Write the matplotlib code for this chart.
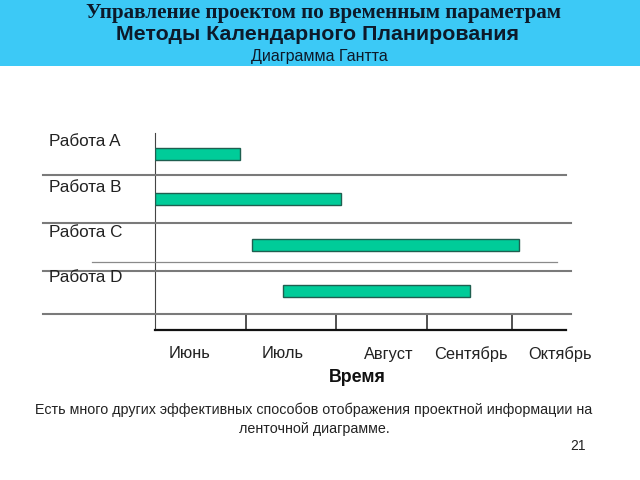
import matplotlib
matplotlib.use("Agg")
import matplotlib.pyplot as plt
from matplotlib.lines import Line2D
from matplotlib.patches import Rectangle

tasks = ["Работа A", "Работа B", "Работа C", "Работа D"]
starts = [0.0, 0.0, 1.07, 1.41]          # months from start of June
durations = [0.94, 2.06, 2.95, 2.07]     # months
months = ["Июнь", "Июль", "Август", "Сентябрь", "Октябрь"]
tick_pos = [1, 2, 3, 3.94]

W, H = 640, 480
fig = plt.figure(figsize=(6.4, 4.8), dpi=100)
fig.patch.set_facecolor("white")

def fx(px):
    return px / W

def fy(py):
    return 1 - py / H

# header band
fig.add_artist(Rectangle((0, fy(66)), 1, 66 / H, transform=fig.transFigure,
                         facecolor="#3cc9f6", edgecolor="none", zorder=0))
fig.text(fx(323), fy(13), "Управление проектом по временным параметрам",
         ha="center", va="center", fontsize=15.2, fontweight="bold",
         family="Liberation Serif", color="#0d1a2a")
fig.text(fx(318), fy(35), "Методы Календарного Планирования",
         ha="center", va="center", fontsize=15.4, fontweight="bold",
         family="Liberation Sans", color="#0d1a2a")
fig.text(fx(319), fy(56), "Диаграмма Гантта",
         ha="center", va="center", fontsize=11.5,
         family=["Liberation Sans Narrow", "Liberation Sans"], color="#0d1a2a")

# axes
ax = fig.add_axes([fx(155), fy(330), fx(566) - fx(155), (330 - 133) / H])
ax.set_xlim(0, 4.54)
ax.set_ylim(3.86, -0.45)
ax.barh(range(len(tasks)), durations, left=starts, height=0.26,
        color="#00cc99", edgecolor="#1f5f50", linewidth=1.0, zorder=3)
for s in ["top", "right"]:
    ax.spines[s].set_visible(False)
ax.spines["left"].set_color("#444444")
ax.spines["bottom"].set_color("#111111")
ax.spines["bottom"].set_linewidth(1.6)
ax.set_yticks([])
ax.set_xticks(tick_pos)
ax.set_xticklabels([])
ax.tick_params(axis="x", direction="in", length=11, width=1.2, color="#333333")
ax.set_facecolor("none")

# row separator lines
seps = [(43, 566, 175), (43, 571, 223), (43, 571, 271), (43, 571, 314)]
for x0, x1, y in seps:
    fig.add_artist(Line2D([fx(x0), fx(x1)], [fy(y), fy(y)], transform=fig.transFigure,
                          color="#7a7a7a", linewidth=1.5, zorder=1))
fig.add_artist(Line2D([fx(92), fx(557)], [fy(262), fy(262)], transform=fig.transFigure,
                      color="#8a8a8a", linewidth=0.9, zorder=1))

# task labels
label_y = [142, 187, 232, 278]
for t, y in zip(tasks, label_y):
    fig.text(fx(49), fy(y), t, ha="left", va="center", fontsize=12.3,
             family="Liberation Sans", color="#222222")

# month labels
month_x = [190, 283, 389, 471, 560]
for m, x in zip(months, month_x):
    fig.text(fx(x), fy(354), m, ha="center", va="center", fontsize=11.8,
             family="Liberation Sans", color="#222222")
fig.text(fx(357), fy(377), "Время", ha="center", va="center", fontsize=12.8,
         fontweight="bold", family="Liberation Sans", color="#111111")

fig.text(fx(314), fy(410), "Есть много других эффективных способов отображения проектной информации на",
         ha="center", va="center", fontsize=10.3, family="Liberation Sans", color="#222222")
fig.text(fx(314), fy(429), "ленточной диаграмме.",
         ha="center", va="center", fontsize=10.3, family="Liberation Sans", color="#222222")
fig.text(fx(578), fy(446), "21", ha="center", va="center", fontsize=10,
         family="Liberation Sans", color="#222222")

fig.savefig("out.png", dpi=100)
